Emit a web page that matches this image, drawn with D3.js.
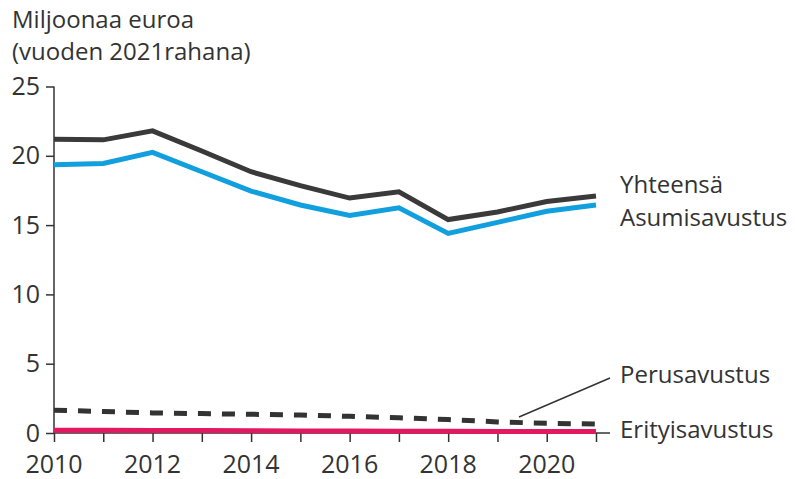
<!DOCTYPE html>
<html>
<head>
<meta charset="utf-8">
<script src="https://cdn.jsdelivr.net/npm/d3@7"></script>
<style>
  body { margin: 0; background: #fff; }
  text { font-family: "Open Sans", sans-serif; fill: #333; }
</style>
</head>
<body>
<script>
var w = 795;
var h = 479;

// data (million euros, 2021 money)
var years = [2010, 2011, 2012, 2013, 2014, 2015, 2016, 2017, 2018, 2019, 2020, 2021];
var yhteensa = [21.2, 21.15, 21.8, 20.35, 18.85, 17.85, 16.95, 17.4, 15.4, 15.95, 16.7, 17.1];
var asumisavustus = [19.35, 19.45, 20.25, 18.85, 17.45, 16.45, 15.7, 16.25, 14.4, 15.2, 16.0, 16.45];
var perusavustus = [1.65, 1.55, 1.45, 1.4, 1.35, 1.3, 1.2, 1.1, 0.97, 0.8, 0.7, 0.65];
var erityisavustus = [0.2, 0.2, 0.18, 0.18, 0.17, 0.15, 0.15, 0.13, 0.12, 0.11, 0.1, 0.1];
var yTicks = [0, 5, 10, 15, 20, 25];
var xTicks = [2010, 2012, 2014, 2016, 2018, 2020];

var xScale = d3.scaleLinear().domain([2010, 2021]).range([54, 596]);
var yScale = d3.scaleLinear().domain([0, 25]).range([433, 86.5]);

var svg = d3.select("body").append("svg")
    .attr("width", w)
    .attr("height", h);

// title
svg.append("text").attr("x", 12).attr("y", 28).attr("font-size", "24px").text("Miljoonaa euroa");
svg.append("text").attr("x", 12).attr("y", 60).attr("font-size", "24px").text("(vuoden 2021rahana)");

// y axis
var yAxis = d3.axisLeft(yScale).tickValues(yTicks).tickSize(8).tickPadding(6);
var gy = svg.append("g").attr("transform", "translate(54,0)").call(yAxis);
gy.select(".domain").remove();
gy.append("line").attr("x1", 0).attr("x2", 0).attr("y1", yScale(25)).attr("y2", yScale(0))
  .attr("stroke", "#333").attr("stroke-width", 1.5);
gy.selectAll(".tick line").attr("stroke", "#333").attr("stroke-width", 1.5);
gy.selectAll(".tick text").attr("font-size", "25px").attr("font-family", "Open Sans").attr("fill", "#333");

// x axis
var xAxis = d3.axisBottom(xScale).tickValues(d3.range(2010, 2022)).tickSize(9).tickFormat("");
var gx = svg.append("g").attr("transform", "translate(0," + yScale(0) + ")").call(xAxis);
gx.select(".domain").remove();
gx.append("line").attr("x1", 54).attr("x2", 610).attr("stroke", "#333").attr("stroke-width", 1.5);
gx.selectAll(".tick line").attr("stroke", "#333").attr("stroke-width", 1.5);

svg.selectAll(".xlab")
  .data(xTicks)
  .enter()
  .append("text")
  .attr("class", "xlab")
  .attr("x", function(d) { return xScale(d); })
  .attr("y", 473)
  .attr("text-anchor", "middle")
  .attr("font-size", "25px")
  .text(function(d) { return d; });

var line = d3.line()
  .x(function(d, i) { return xScale(years[i]); })
  .y(function(d) { return yScale(d); });

svg.append("path").datum(erityisavustus).attr("d", line)
  .attr("fill", "none").attr("stroke", "#e2195e").attr("stroke-width", 5);
svg.append("path").datum(perusavustus).attr("d", line)
  .attr("fill", "none").attr("stroke", "#333").attr("stroke-width", 5)
  .attr("stroke-dasharray", "13,11");
svg.append("path").datum(asumisavustus).attr("d", line)
  .attr("fill", "none").attr("stroke", "#119fde").attr("stroke-width", 5);
svg.append("path").datum(yhteensa).attr("d", line)
  .attr("fill", "none").attr("stroke", "#3a3a3a").attr("stroke-width", 5);

// labels
svg.append("text").attr("x", 620).attr("y", 193).attr("font-size", "24px").text("Yhteensä");
svg.append("text").attr("x", 620).attr("y", 226).attr("font-size", "24px").text("Asumisavustus");
svg.append("text").attr("x", 620).attr("y", 383).attr("font-size", "24px").text("Perusavustus");
svg.append("text").attr("x", 620).attr("y", 438).attr("font-size", "24px").text("Erityisavustus");
svg.append("line").attr("x1", 519).attr("y1", 417).attr("x2", 610).attr("y2", 378)
  .attr("stroke", "#333").attr("stroke-width", 1.5);
</script>
</body>
</html>
